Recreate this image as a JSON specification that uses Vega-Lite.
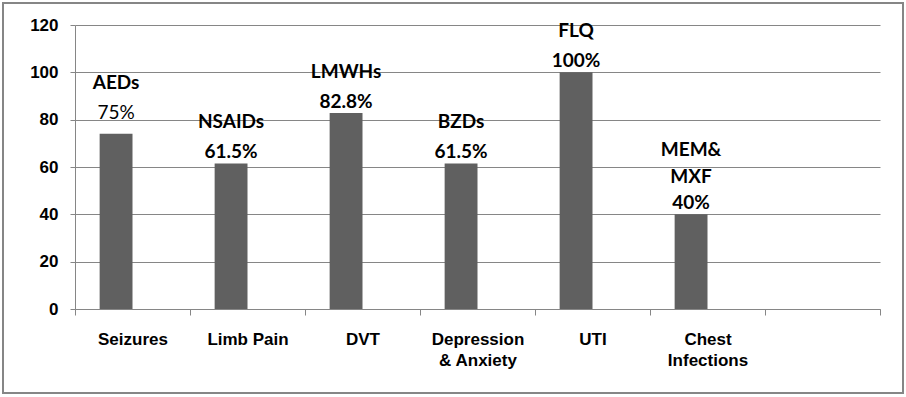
{
  "$schema": "https://vega.github.io/schema/vega-lite/v6.json",
  "width": 900,
  "height": 390,
  "autosize": {"type": "none"},
  "padding": {"left": 3, "top": 3, "right": 3, "bottom": 4},
  "background": "white",
  "config": {"view": {"stroke": "#868686", "strokeWidth": 2}},
  "data": {"values": [
    {"condition": "Seizures", "drug": "AEDs", "pct": "75%", "value": 74},
    {"condition": "Limb Pain", "drug": "NSAIDs", "pct": "61.5%", "value": 61.5},
    {"condition": "DVT", "drug": "LMWHs", "pct": "82.8%", "value": 82.8},
    {"condition": "Depression & Anxiety", "drug": "BZDs", "pct": "61.5%", "value": 61.5},
    {"condition": "UTI", "drug": "FLQ", "pct": "100%", "value": 100},
    {"condition": "Chest Infections", "drug": "MEM&\nMXF", "pct": "40%", "value": 40}
  ]},
  "encoding": {
    "x": {
      "field": "condition", "type": "nominal",
      "scale": {"domain": ["Seizures", "Limb Pain", "DVT", "Depression & Anxiety", "UTI", "Chest Infections", " "], "range": [72, 877], "paddingInner": 0, "paddingOuter": 0},
      "axis": {
        "title": null, "grid": false, "tickBand": "extent", "tickSize": 6, "labelAngle": 0,
        "offset": -84,
        "domainColor": "#868686", "tickColor": "#868686",
        "labelFont": "Liberation Sans", "labelFontWeight": "bold", "labelFontSize": 17, "labelColor": "black",
        "labelPadding": 16, "labelLineHeight": 21,
        "labelExpr": "datum.value == 'Depression & Anxiety' ? ['Depression', '& Anxiety'] : datum.value == 'Chest Infections' ? ['Chest', 'Infections'] : datum.label"
      }
    },
    "xOffset": {"datum": "a", "scale": {"domain": ["a", "b"], "paddingInner": 0, "paddingOuter": 0.75}},
    "y": {
      "field": "value", "type": "quantitative",
      "scale": {"domain": [0, 120], "range": [306, 22], "nice": false},
      "axis": {
        "title": null, "values": [0, 20, 40, 60, 80, 100, 120], "grid": true, "gridColor": "#868686",
        "domainColor": "#868686", "tickColor": "#868686", "tickSize": 5, "offset": -72,
        "labelFont": "Liberation Sans", "labelFontWeight": "bold", "labelFontSize": 17, "labelColor": "black",
        "labelPadding": 12
      }
    }
  },
  "layer": [
    {"mark": {"type": "bar", "color": "#606060"}},
    {
      "transform": [{"filter": "datum.condition != 'Seizures'"}],
      "mark": {"type": "text", "font": "Lato", "fontWeight": "bold", "fontSize": 19, "baseline": "middle", "dy": -11, "color": "black"},
      "encoding": {"text": {"field": "pct"}}
    },
    {
      "transform": [{"filter": "datum.condition == 'Seizures'"}],
      "mark": {"type": "text", "font": "Lato", "fontWeight": "normal", "fontSize": 19, "baseline": "middle", "dy": -21, "color": "black"},
      "encoding": {"text": {"field": "pct"}}
    },
    {
      "transform": [{"filter": "datum.condition != 'Seizures' && datum.condition != 'Chest Infections'"}],
      "mark": {"type": "text", "font": "Lato", "fontWeight": "bold", "fontSize": 19, "baseline": "bottom", "dy": -31, "color": "black"},
      "encoding": {"text": {"field": "drug"}}
    },
    {
      "transform": [{"filter": "datum.condition == 'Chest Infections'"}],
      "mark": {"type": "text", "font": "Lato", "fontWeight": "bold", "fontSize": 19, "baseline": "middle", "dy": -64, "lineBreak": "\n", "lineHeight": 27, "color": "black"},
      "encoding": {"text": {"field": "drug"}}
    },
    {
      "transform": [{"filter": "datum.condition == 'Seizures'"}],
      "mark": {"type": "text", "font": "Lato", "fontWeight": "bold", "fontSize": 19, "baseline": "bottom", "dy": -41, "color": "black"},
      "encoding": {"text": {"field": "drug"}}
    }
  ]
}
